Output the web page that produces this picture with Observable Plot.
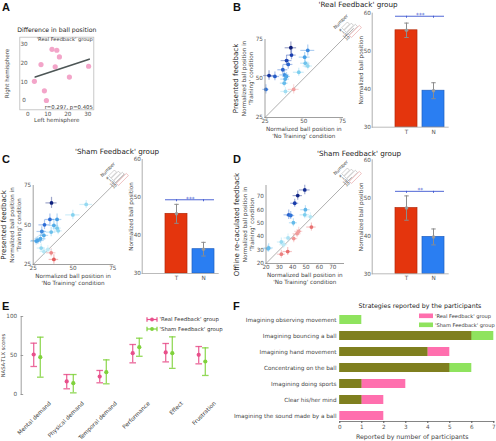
<!DOCTYPE html>
<html><head><meta charset="utf-8">
<script src="https://cdn.jsdelivr.net/npm/d3@7"></script>
<script src="https://cdn.jsdelivr.net/npm/@observablehq/plot@0.6"></script>
<style>
body{margin:0;background:#fff;}
#root{position:relative;width:496px;height:441px;overflow:hidden;background:#fff;font-family:"DejaVu Sans",sans-serif;}
</style></head><body><div id="root"></div>
<script>
// ---------------- DATA ----------------
// Panel A: difference in ball position ('Real Feedback' group)
const aLeft  = [12.1, 14.5, 15.8, 6.6, 13.7, 30.4, 20.8, 3.3, 8.3, 9.3];
const aRight = [27.5, 27.0, 23.4, 19.3, 18.1, 18.4, 12.6, 10.3, 5.2, 0.0];
const aFitX = [3.7, 30.7];
const aFitY = [12.6, 22.2];
const aTicks = [0, 10, 20, 30];

// Panel B scatter ('Real Feedback')
const bNoTrain = [41.7, 42.1, 38.9, 40.0, 36.5, 37.6, 38.9, 27.6, 31.4, 38.0, 37.4, 38.2, 25.6, 43.5, 52.6, 50.6, 51.0, 52.6, 46.8];
const bTrain   = [69.7, 65.0, 61.5, 59.0, 55.6, 52.3, 51.3, 51.9, 51.3, 49.6, 47.0, 41.7, 43.0, 43.0, 68.0, 63.7, 59.8, 58.0, 54.0];
const bErrX    = [3.7, 3.0, 3.5, 3.0, 3.2, 3.0, 2.5, 3.5, 3.0, 2.8, 2.5, 3.0, 2.0, 3.5, 4.5, 3.5, 3.0, 3.0, 3.5];
const bErrY    = [3.7, 3.0, 3.2, 3.0, 3.0, 2.8, 2.5, 3.0, 2.8, 2.5, 2.5, 2.5, 3.0, 3.0, 3.5, 3.0, 3.0, 2.5, 2.5];

// Panel C scatter ('Sham Feedback', presented)
const cNoTrain = [36.5, 35.5, 40.0, 32.1, 38.0, 30.4, 36.3, 40.0, 40.7, 29.6, 27.9, 31.7, 26.9, 30.0, 31.7, 34.2, 49.9, 58.3, 36.3, 38.0];
const cTrain   = [64.0, 53.5, 53.5, 50.1, 49.7, 45.9, 45.5, 48.0, 46.3, 41.3, 40.2, 43.4, 39.8, 35.4, 33.2, 34.5, 56.4, 63.0, 32.4, 28.2];
const cErrX    = [3.5, 3.0, 3.0, 3.5, 3.0, 3.0, 3.0, 2.5, 2.5, 3.5, 4.0, 3.0, 3.5, 2.5, 2.5, 3.0, 4.5, 4.0, 3.0, 3.0];
const cErrY    = [3.5, 3.5, 3.5, 3.0, 3.0, 3.0, 3.0, 2.5, 2.5, 3.0, 2.5, 3.0, 2.5, 2.5, 2.5, 2.5, 3.0, 2.5, 2.5, 3.0];

// Panel D scatter ('Sham Feedback', offline re-calculated)
const dNoTrain = [49.0, 43.75, 41.5, 49.5, 37.0, 38.5, 40.5, 49.0, 53.25, 36.5, 31.5, 33.25, 22.0, 21.5, 31.5, 36.25, 40.75, 43.25, 44.5, 54.0];
const dTrain   = [74.7, 70.5, 64.8, 60.0, 56.2, 55.7, 50.3, 56.2, 54.7, 39.0, 36.0, 34.0, 31.6, 31.0, 26.9, 28.9, 38.5, 42.2, 43.9, 47.1];
const dErrX    = [4.0, 3.5, 3.0, 3.5, 3.5, 3.0, 3.0, 3.5, 3.0, 3.0, 3.0, 3.0, 3.5, 3.0, 3.0, 3.5, 3.0, 3.0, 3.0, 3.5];
const dErrY    = [3.5, 3.5, 3.0, 3.0, 3.5, 3.0, 3.0, 3.0, 3.0, 3.0, 3.0, 3.0, 3.0, 2.5, 3.0, 3.0, 3.0, 3.0, 3.0, 3.0];

const bcTicks = [25, 50, 75];
const dTicks = [20, 30, 40, 50, 60, 70];

// Bar panels
const barCats = ["T", "N"];
const bBarMean = [55.5, 39.6], bBarErr = [1.9, 2.1];
const cBarMean = [45.7, 36.4], cBarErr = [2.5, 1.8];
const dBarMean = [47.3, 39.7], dBarErr = [3.2, 2.1];
const sigLevels = [59.2, 49.4, 51.7];
const sigLabels = ["***", "***", "**"];
const barTicks = [30, 40, 50, 60];

// Panel E: NASA-TLX
const tlxCats = ["Mental demand", "Physical demand", "Temporal demand", "Performance", "Effect", "Frustration"];
const realMean = [51.3, 16.7, 23.0, 53.0, 53.9, 50.9];
const realLo   = [35.9, 7.3, 15.0, 40.6, 41.8, 39.3];
const realHi   = [65.8, 25.6, 30.8, 64.1, 65.4, 61.5];
const shamMean = [47.9, 14.5, 28.6, 60.7, 53.0, 42.3];
const shamLo   = [22.2, 2.1, 13.7, 49.0, 33.5, 24.4];
const shamHi   = [73.5, 25.6, 44.4, 72.2, 73.9, 59.8];
const tlxTicks = [0, 50, 100];

// Panel F: strategies
const strategies = ["Imagining observing movement", "Imagining bouncing a ball", "Imagining hand movement", "Concentrating on the ball", "Imagining doing sports", "Clear his/her mind", "Imagining the sound made by a ball"];
const realCounts = [0, 6, 5, 5, 3, 2, 2];
const shamCounts = [1, 7, 4, 6, 1, 1, 0];
const countTicks = [0, 1, 2, 3, 4, 5, 6, 7];

const groupNames = ["'Real Feedback' group", "'Sham Feedback' group"];
const numberLegendLabels = ["#", "1", "10", "20"];

// ---------------- HELPERS ----------------
const root = document.getElementById("root");
const FONT = "DejaVu Sans, sans-serif";
const baseStyle = {fontFamily: FONT, fontSize: "5.7px", color: "#555", background: "transparent", overflow: "visible"};
function place(svg, left, top) {
  svg.style.position = "absolute";
  svg.style.left = left + "px";
  svg.style.top = top + "px";
  root.appendChild(svg);
}
const capSym = {draw(ctx, size) { const w = Math.sqrt(size / Math.PI); ctx.moveTo(-w, 0); ctx.lineTo(w, 0); }};
const C = {textAnchor: "middle", lineAnchor: "middle"};

const colorScale = {
  type: "linear",
  domain: [-10, -0.01, 0, 7, 13, 18, 23, 28],
  range: ["#e35a5a", "#f2a3a3", "#c2ebf6", "#7fd0ee", "#48a2e6", "#2d6dd6", "#1b3fae", "#0c1c78"],
  clamp: true, interpolate: "rgb"
};

// ---------------- PANEL A ----------------
{
  const pts = aLeft.map((x, i) => ({x, y: aRight[i]}));
  const fit = aFitX.map((x, i) => ({x, y: aFitY[i]}));
  const svg = Plot.plot({
    width: 100, height: 100, marginLeft: 19.3, marginRight: 6.7, marginTop: 10.7, marginBottom: 16.7,
    style: baseStyle,
    x: {domain: [-4, 33], axis: null}, y: {domain: [-5, 34], axis: null},
    marks: [
      Plot.frame({stroke: "#bbb", strokeWidth: 0.8}),
      Plot.dot(pts, {x: "x", y: "y", r: 2.6, fill: "#f3a5c9"}),
      Plot.line(fit, {x: "x", y: "y", stroke: "#4d5656", strokeWidth: 1.6}),
      Plot.text(aTicks, {x: d => d, frameAnchor: "bottom", dy: 4, text: d => String(d), ...C}),
      Plot.text(aTicks, {y: d => d, frameAnchor: "left", dx: 4.2, text: d => String(d), ...C}),
      Plot.text([groupNames[0]], {frameAnchor: "top-right", textAnchor: "end", lineAnchor: "middle", dx: -1, dy: 2.3, fontSize: 5.1, fill: "#333"}),
      Plot.text(["r=0.297, p=0.405"], {frameAnchor: "bottom-right", textAnchor: "end", lineAnchor: "middle", dx: -1, dy: -2.3, fontSize: 5.3, fill: "#333"}),
      Plot.text(["Difference in ball position"], {frameAnchor: "top", dy: -6.8, fontSize: 6.2, fill: "#222", ...C}),
      Plot.text(["Right hemisphere"], {frameAnchor: "left", rotate: -90, dx: -13, fontSize: 5.6, fill: "#444", ...C}),
      Plot.text(["Left hemisphere"], {frameAnchor: "bottom", dy: 10.7, fontSize: 5.6, fill: "#444", ...C})
    ]
  });
  place(svg, 0, 26);
}

// ---------------- SCATTER PANELS ----------------
function scatterPanel(o) {
  const pts = o.x.map((x, i) => ({x, y: o.y[i], ex: o.ex[i], ey: o.ey[i], d: o.y[i] - x}));
  const svg = Plot.plot({
    width: o.w, height: o.h, marginLeft: o.ml, marginRight: o.mr, marginTop: o.mt, marginBottom: o.mb,
    style: baseStyle,
    x: {domain: o.domain, axis: null}, y: {domain: o.domain, axis: null},
    color: colorScale,
    marks: [
      Plot.line([o.domain[0], o.diagEnd], {x: d => d, y: d => d, stroke: "#9a9a9a", strokeWidth: 0.8}),
      Plot.ruleX(pts, {x: "x", y1: d => d.y - d.ey, y2: d => d.y + d.ey, stroke: d => d.d, strokeOpacity: 0.4, strokeWidth: 1.2}),
      Plot.ruleY(pts, {y: "y", x1: d => d.x - d.ex, x2: d => d.x + d.ex, stroke: d => d.d, strokeOpacity: 0.4, strokeWidth: 1.2}),
      Plot.dot(pts, {x: "x", y: "y", r: 1.9, fill: d => d.d}),
      Plot.frame({anchor: "left", stroke: "#888", strokeWidth: 0.8}),
      Plot.frame({anchor: "bottom", stroke: "#888", strokeWidth: 0.8}),
      Plot.axisX({ticks: o.ticks, tickSize: 0, tickPadding: 1.5, tickFormat: "d", label: null}),
      Plot.axisY({ticks: o.ticks, tickSize: 0, tickPadding: 2, tickFormat: "d", label: null}),
      Plot.text([o.ylab], {frameAnchor: "left", rotate: -90, dx: -29, fontSize: 7, fill: "#222", ...C}),
      Plot.text(["Normalized ball position in"], {frameAnchor: "left", rotate: -90, dx: -21, fill: "#444", ...C}),
      Plot.text(["'Training' condition"], {frameAnchor: "left", rotate: -90, dx: -14, fill: "#444", ...C}),
      Plot.text(["Normalized ball position in"], {frameAnchor: "bottom", dy: 11.5, fill: "#444", ...C}),
      Plot.text(["'No Training' condition"], {frameAnchor: "bottom", dy: 18.8, fill: "#444", ...C})
    ]
  });
  place(svg, o.left, o.top);
}
scatterPanel({x: bNoTrain, y: bTrain, ex: bErrX, ey: bErrY, domain: [25, 75], diagEnd: 82, ticks: bcTicks,
  left: 224, top: 0, w: 130, h: 145, ml: 40.5, mr: 12, mt: 39, mb: 28, ylab: "Presented feedback"});
scatterPanel({x: cNoTrain, y: cTrain, ex: cErrX, ey: cErrY, domain: [25, 75], diagEnd: 82, ticks: bcTicks,
  left: 0, top: 150, w: 125, h: 145, ml: 32.7, mr: 12.7, mt: 35, mb: 31, ylab: "Presented feedback"});
scatterPanel({x: dNoTrain, y: dTrain, ex: dErrX, ey: dErrY, domain: [20, 78], diagEnd: 84, ticks: dTicks,
  left: 224, top: 150, w: 130, h: 145, ml: 41.5, mr: 11, mt: 35, mb: 32, ylab: "Offline re-caculated feedback"});

// ---------------- BAR PANELS ----------------
function barPanel(o) {
  const rows = barCats.map((c, i) => ({c, m: o.mean[i], e: o.err[i]}));
  const svg = Plot.plot({
    width: 120, height: 145, marginLeft: 31.7, marginRight: 12.3, marginTop: o.mt, marginBottom: o.mb,
    style: baseStyle,
    x: {domain: barCats, range: [51.5, 107.7], paddingInner: 0.17, paddingOuter: 0.1, axis: null},
    y: {domain: [30, 60], axis: null},
    marks: [
      Plot.barY(rows, {x: "c", y1: 30, y2: "m", fill: d => d.c === "T" ? "#e4350d" : "#2a7ef2", stroke: d => d.c === "T" ? "#b32a0a" : "#1f5fc0", strokeWidth: 0.7}),
      Plot.frame({anchor: "left", stroke: "#999", strokeWidth: 0.8}),
      Plot.frame({anchor: "bottom", stroke: "#aaa", strokeWidth: 0.8}),
      Plot.ruleX(rows, {x: "c", y1: d => d.m - d.e, y2: d => d.m + d.e, stroke: "#8c8c8c", strokeWidth: 1}),
      Plot.dot(rows, {x: "c", y: d => d.m - d.e, symbol: capSym, r: 2.2, stroke: "#8c8c8c", strokeWidth: 1}),
      Plot.dot(rows, {x: "c", y: d => d.m + d.e, symbol: capSym, r: 2.2, stroke: "#8c8c8c", strokeWidth: 1}),
      Plot.dot(rows, {x: "c", y: "m", r: 1.8, fill: "#999"}),
      Plot.ruleY([o.sig], {x1: () => "T", x2: () => "N", stroke: "#3b55d0", strokeWidth: 0.9}),
      Plot.ruleX(barCats, {x: d => d, y1: o.sig, y2: o.sig, insetBottom: -2, stroke: "#3b55d0", strokeWidth: 0.9}),
      Plot.text([o.sigLabel], {x: () => "T", y: o.sig, dx: 13.85, dy: -1, fill: "#3b55d0", fontSize: 5.7, ...C}),
      Plot.axisX({tickSize: 0, tickPadding: 2.5, label: null}),
      Plot.axisY({ticks: barTicks, tickSize: 0, tickPadding: 1.2, tickFormat: "d", label: null}),
      Plot.text(["Normalized ball position"], {frameAnchor: "left", rotate: -90, dx: -11, fill: "#444", ...C})
    ]
  });
  place(svg, o.left, o.top);
}
barPanel({mean: bBarMean, err: bBarErr, sig: sigLevels[0], sigLabel: sigLabels[0], left: 340, top: 0, mt: 12.7, mb: 18.3});
barPanel({mean: cBarMean, err: cBarErr, sig: sigLevels[1], sigLabel: sigLabels[1], left: 110, top: 150, mt: 9, mb: 22});
barPanel({mean: dBarMean, err: dBarErr, sig: sigLevels[2], sigLabel: sigLabels[2], left: 340, top: 150, mt: 9.3, mb: 21.7});

// ---------------- PANEL E ----------------
const PINK_E = "#e8508b", GREEN_E = "#80d23c";
{
  const rows = tlxCats.map((c, i) => ({c, rm: realMean[i], rl: realLo[i], rh: realHi[i], sm: shamMean[i], sl: shamLo[i], sh: shamHi[i]}));
  const off = 3.3;
  const grp = (m, lo, hi, col, dx) => [
    Plot.ruleX(rows, {x: "c", y1: lo, y2: hi, stroke: col, strokeWidth: 1.3, strokeOpacity: 0.85, dx}),
    Plot.dot(rows, {x: "c", y: lo, symbol: capSym, r: 3.3, stroke: col, strokeWidth: 1.3, strokeOpacity: 0.85, dx}),
    Plot.dot(rows, {x: "c", y: hi, symbol: capSym, r: 3.3, stroke: col, strokeWidth: 1.3, strokeOpacity: 0.85, dx}),
    Plot.dot(rows, {x: "c", y: m, r: 2.1, fill: col, dx})
  ];
  const svg = Plot.plot({
    width: 240, height: 141, marginLeft: 20.7, marginRight: 20.5, marginTop: 16, marginBottom: 47,
    style: baseStyle,
    x: {type: "band", domain: tlxCats, range: [18.25, 219.25], padding: 0, axis: null},
    y: {domain: [0, 100], axis: null},
    marks: [
      Plot.frame({anchor: "left", stroke: "#888", strokeWidth: 0.8}),
      Plot.tickY(tlxTicks, {y: d => d, insetRight: 196.3, stroke: "#888", strokeWidth: 0.8}),
      Plot.axisY({ticks: tlxTicks, tickSize: 0, tickPadding: 4, tickFormat: "d", label: null}),
      ...grp("rm", "rl", "rh", PINK_E, -off),
      ...grp("sm", "sl", "sh", GREEN_E, off),
      Plot.text(tlxCats, {x: d => d, frameAnchor: "bottom", rotate: -45, textAnchor: "end", lineAnchor: "middle", dx: 13, dy: 8, fill: "#444"}),
      Plot.text(["NASA-TLX scores"], {frameAnchor: "left", rotate: -90, dx: -17.4, fontSize: 5.2, fill: "#444", ...C})
    ]
  });
  place(svg, 0, 300);
}

// ---------------- PANEL F ----------------
const PINK_F = "#ff6fae", GREEN_F = "#8fe35e", OLIVE_F = "#7f7f1f";
{
  const rows = strategies.map((s, i) => ({s, r: realCounts[i], h: shamCounts[i], both: Math.min(realCounts[i], shamCounts[i])}));
  const svg = Plot.plot({
    width: 256, height: 141, marginLeft: 99.3, marginRight: 2.7, marginTop: 10, marginBottom: 20,
    style: baseStyle,
    x: {domain: [0, 7], axis: null},
    y: {domain: strategies, range: [10.1, 125.2], paddingInner: 0.42, paddingOuter: 0.21, axis: null},
    marks: [
      Plot.barX(rows, {y: "s", x1: 0, x2: "r", fill: PINK_F}),
      Plot.barX(rows, {y: "s", x1: 0, x2: "h", fill: GREEN_F}),
      Plot.barX(rows, {y: "s", x1: 0, x2: "both", fill: OLIVE_F}),
      Plot.frame({anchor: "bottom", stroke: "#666", strokeWidth: 0.8}),
      Plot.axisX({ticks: countTicks, tickSize: 2, tickPadding: 1.5, tickFormat: "d", label: null}),
      Plot.text(strategies, {y: d => d, frameAnchor: "left", textAnchor: "end", lineAnchor: "middle", dx: -3.3, fill: "#444"}),
      Plot.text(["Reported by number of participants"], {frameAnchor: "bottom", dy: 15, dx: -4.6, fontSize: 6.3, fill: "#444", ...C})
    ]
  });
  place(svg, 240, 300);
}

// ---------------- OVERLAY: letters, titles, legends ----------------
{
  const ov = d3.create("svg").attr("width", 496).attr("height", 441)
    .style("position", "absolute").style("left", "0px").style("top", "0px").style("overflow", "visible")
    .attr("font-family", FONT);
  const letters = [["A", 2, 11], ["B", 233, 11], ["C", 2, 163], ["D", 233, 163], ["E", 2, 310], ["F", 233, 310]];
  letters.forEach(([t, x, y]) => ov.append("text").attr("x", x).attr("y", y).attr("font-family", "Liberation Sans, Arial, sans-serif")
    .attr("font-weight", "bold").attr("font-size", 11).attr("fill", "#111").text(t));
  const titles = [[groupNames[0], 358, 7], [groupNames[1], 117, 154], [groupNames[1], 359, 155.5]];
  titles.forEach(([t, x, y]) => ov.append("text").attr("x", x).attr("y", y).attr("text-anchor", "middle")
    .attr("font-size", 7.2).attr("fill", "#222").text(t));
  ov.append("text").attr("x", 420).attr("y", 308.2).attr("text-anchor", "middle").attr("font-size", 6.3).attr("fill", "#222")
    .text("Strategies reported by the participants");

  // "Number" legends (rotated)
  function numberLegend(cx, cy) {
    const g = ov.append("g").attr("transform", `translate(${cx},${cy}) rotate(-45)`);
    g.append("text").attr("x", 0).attr("y", -13).attr("text-anchor", "middle").attr("font-size", 4.6).attr("fill", "#333").text("Number");
    numberLegendLabels.forEach((t, i) => {
      g.append("text").attr("x", -4.5).attr("y", -7.6 + i * 3.6).attr("text-anchor", "end").attr("font-size", 3.6).attr("fill", "#444").text(t);
      g.append("rect").attr("x", -3.5).attr("y", -9.6 + i * 3.6).attr("width", 8 + i * 2).attr("height", 3)
        .attr("fill", "none").attr("stroke", i === numberLegendLabels.length - 1 ? "#e08a8a" : "#aaa").attr("stroke-width", 0.5);
    });
  }
  numberLegend(351, 32);
  numberLegend(118, 180);
  numberLegend(351, 178);

  // E legend
  const eLeg = [[groupNames[0], PINK_E, 319.5], [groupNames[1], GREEN_E, 329]];
  eLeg.forEach(([t, col, y]) => {
    const g = ov.append("g").attr("stroke", col).attr("stroke-width", 1.2);
    g.append("line").attr("x1", 147).attr("x2", 157).attr("y1", y).attr("y2", y);
    g.append("line").attr("x1", 147).attr("x2", 147).attr("y1", y - 2.2).attr("y2", y + 2.2);
    g.append("line").attr("x1", 157).attr("x2", 157).attr("y1", y - 2.2).attr("y2", y + 2.2);
    ov.append("circle").attr("cx", 152).attr("cy", y).attr("r", 1.9).attr("fill", col);
    ov.append("text").attr("x", 159.5).attr("y", y + 1.9).attr("font-size", 5.4).attr("fill", "#333").text(t);
  });
  // F legend
  const fLeg = [[groupNames[0], PINK_F, 313.5], [groupNames[1], GREEN_F, 322.5]];
  fLeg.forEach(([t, col, y]) => {
    ov.append("rect").attr("x", 419).attr("y", y).attr("width", 14).attr("height", 4.6).attr("fill", col);
    ov.append("text").attr("x", 435).attr("y", y + 4).attr("font-size", 5.1).attr("fill", "#333").text(t);
  });
  root.appendChild(ov.node());
}
</script></body></html>
